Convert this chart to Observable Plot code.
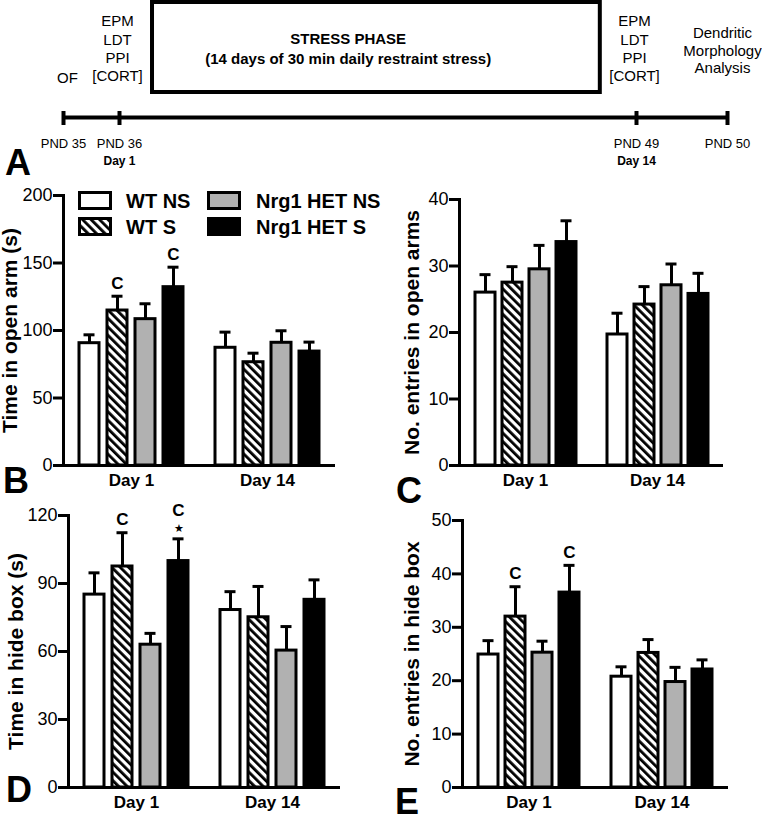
<!DOCTYPE html>
<html>
<head>
<meta charset="utf-8">
<script src="https://cdn.jsdelivr.net/npm/d3@7"></script>
<script src="https://cdn.jsdelivr.net/npm/@observablehq/plot@0.6"></script>
<style>
  body { margin: 0; background: #fff; }
  #fig { position: relative; width: 762px; height: 815px; overflow: hidden; background: #fff;
         font-family: "Liberation Sans", Arial, Helvetica, sans-serif; color: #000; }
  #fig > svg { position: absolute; }
  .letter { position: absolute; font-weight: bold; font-size: 36px; line-height: 36px; }
  .lg-item { position: absolute; display: flex; align-items: center; }
  .lg-text { font-weight: bold; font-size: 20px; line-height: 20px; white-space: nowrap; }
  g[aria-label="y-axis label"] { font-weight: bold; font-size: 21px; }
  g[aria-label="fx-axis tick label"] { font-weight: bold; }
</style>
</head>
<body>
<div id="fig">
  <svg width="0" height="0" style="position:absolute">
    <defs>
      <pattern id="hatch" patternUnits="userSpaceOnUse" width="6" height="6" patternTransform="rotate(-45)">
        <rect width="6" height="6" fill="white"></rect>
        <rect width="2.8" height="6" fill="black"></rect>
      </pattern>
    </defs>
  </svg>
</div>
<script>
// ---------- data ----------
const days = ["Day 1", "Day 14"];
const groups = ["WT NS", "WT S", "Nrg1 HET NS", "Nrg1 HET S"];
const groupFills = ["white", "url(#hatch)", "#b1b1b1", "black"];

// B: time in open arm (s)  [day][group]
const openArmTimeMean = [[90.6, 114.8, 108.4, 132.1], [87.2, 76.5, 90.9, 84.4]];
const openArmTimeSEM  = [[6.2, 10.6, 11.4, 14.8], [11.6, 6.7, 8.9, 7.0]];
const openArmTimeTicks = [0, 50, 100, 150, 200];
// C: no. entries in open arms
const openArmEntriesMean = [[26.0, 27.5, 29.5, 33.6], [19.7, 24.2, 27.1, 25.8]];
const openArmEntriesSEM  = [[2.7, 2.4, 3.6, 3.2], [3.2, 2.7, 3.2, 3.1]];
const openArmEntriesTicks = [0, 10, 20, 30, 40];
// D: time in hide box (s)
const hideTimeMean = [[85.1, 97.5, 63.0, 99.9], [78.3, 75.1, 60.4, 82.8]];
const hideTimeSEM  = [[9.6, 14.9, 5.0, 9.8], [8.1, 13.6, 10.6, 8.8]];
const hideTimeTicks = [0, 30, 60, 90, 120];
// E: no. entries in hide box
const hideEntriesMean = [[24.9, 32.0, 25.25, 36.5], [20.75, 25.2, 19.75, 22.1]];
const hideEntriesSEM  = [[2.6, 5.6, 2.15, 5.1], [1.85, 2.5, 2.75, 1.8]];
const hideEntriesTicks = [0, 10, 20, 30, 40, 50];

// significance annotations (symbols listed top to bottom)
const annB = [{day: "Day 1", group: "WT S", symbols: ["C"]}, {day: "Day 1", group: "Nrg1 HET S", symbols: ["C"]}];
const annC = [];
const annD = [{day: "Day 1", group: "WT S", symbols: ["C"]}, {day: "Day 1", group: "Nrg1 HET S", symbols: ["C", "★"]}];
const annE = [{day: "Day 1", group: "WT S", symbols: ["C"]}, {day: "Day 1", group: "Nrg1 HET S", symbols: ["C"]}];

// timeline (panel A)
const timelinePND = [35, 36, 49, 50];
const pndLabels = ["PND 35", "PND 36", "PND 49", "PND 50"];
const dayMarkers = [{pnd: 36, label: "Day 1"}, {pnd: 49, label: "Day 14"}];
const testDays = [36, 49];
const testLines = ["EPM", "LDT", "PPI", "[CORT]"];
const ofDay = [35];
const ofLabel = "OF";
const analysisDay = [50];
const analysisLines = ["Dendritic", "Morphology", "Analysis"];
const stressPhase = [{from: 36.83, to: 48.09, textAt: 41.75}];
const stressTitle = "STRESS PHASE";
const stressSubtitle = "(14 days of 30 min daily restraint stress)";

// ---------- drawing ----------
const FONT = '"Liberation Sans", Arial, Helvetica, sans-serif';
const fig = document.getElementById("fig");

function place(svg, left, top) {
  svg.style.left = left + "px";
  svg.style.top = top + "px";
  svg.style.position = "absolute";
  fig.appendChild(svg);
}

// Panel A timeline
const header = Plot.plot({
  width: 762, height: 170, margin: 0,
  style: {fontFamily: FONT, color: "black", background: "transparent", overflow: "visible"},
  x: {type: "linear", domain: timelinePND, range: [63, 119, 636, 727], axis: null},
  y: {type: "identity"},
  marks: [
    Plot.rect(stressPhase, {x1: "from", x2: "to", y1: 2, y2: 92, fill: "none", stroke: "black", strokeWidth: 4}),
    Plot.text(stressPhase, {x: "textAt", y: 47, text: () => stressTitle + "\n" + stressSubtitle,
      fontWeight: "bold", fontSize: 15, lineHeight: 1.33, fill: "black"}),
    Plot.text(testDays, {x: d => d, y: 47.5, text: () => testLines.join("\n"), fontSize: 15, lineHeight: 1.22, dx: -2, fill: "black"}),
    Plot.text(ofDay, {x: d => d, y: 78, text: () => ofLabel, fontSize: 15, dx: 4, fill: "black"}),
    Plot.text(analysisDay, {x: d => d, y: 49.5, text: () => analysisLines.join("\n"), fontSize: 15, lineHeight: 1.17, dx: -5, fill: "black"}),
    Plot.ruleY([117], {x1: timelinePND[0], x2: timelinePND[timelinePND.length - 1], strokeWidth: 4}),
    Plot.ruleX(timelinePND, {x: d => d, y1: 111, y2: 125, strokeWidth: 4}),
    Plot.text(timelinePND, {x: d => d, y: 143, text: (d, i) => pndLabels[i], fontSize: 13, fill: "black"}),
    Plot.text(dayMarkers, {x: "pnd", y: 161, text: "label", fontSize: 12, fontWeight: "bold", fill: "black"})
  ]
});
place(header, 0, 0);

function panel(cfg) {
  const rows = [];
  days.forEach((day, di) => groups.forEach((group, gi) =>
    rows.push({day, group, mean: cfg.mean[di][gi], sem: cfg.sem[di][gi]})));
  const ann = cfg.ann.flatMap(a => {
    const r = rows.find(r => r.day === a.day && r.group === a.group);
    return a.symbols.map((s, k) => ({day: a.day, group: a.group, top: r.mean + r.sem, symbol: s, level: a.symbols.length - 1 - k}));
  });
  const svg = Plot.plot({
    width: cfg.width, height: cfg.height,
    marginLeft: cfg.ml, marginRight: cfg.mr, marginTop: cfg.mt, marginBottom: cfg.mb,
    style: {fontFamily: FONT, fontSize: "18px", color: "black", background: "transparent", overflow: "visible"},
    fx: {domain: days, padding: 0, label: null},
    x: {domain: groups, paddingInner: 0.27, paddingOuter: 0.53, axis: null},
    y: {domain: [0, cfg.ticks[cfg.ticks.length - 1]], label: cfg.label},
    color: {domain: groups, range: groupFills},
    marks: [
      Plot.axisY({ticks: cfg.ticks, tickSize: 10, tickPadding: 1, strokeWidth: 3, fontSize: 18,
        label: cfg.label, labelAnchor: "center", labelArrow: "none", labelOffset: cfg.lo}),
      Plot.axisFx({anchor: "bottom", tickSize: 0, tickPadding: 8, fontSize: 17, fontWeight: "bold", label: null}),
      Plot.frame({anchor: "left", facetAnchor: "left", strokeWidth: 3}),
      Plot.ruleX(rows, {fx: "day", x: "group", y1: "mean", y2: d => d.mean + d.sem, strokeWidth: 3}),
      Plot.tickY(rows, {fx: "day", x: "group", y: d => d.mean + d.sem, strokeWidth: 3, insetLeft: 4.5, insetRight: 4.5}),
      Plot.barY(rows, {fx: "day", x: "group", y: "mean", fill: "group", stroke: "black", strokeWidth: 3}),
      Plot.ruleY([0], {strokeWidth: 3}),
      Plot.text(ann.filter(a => a.symbol === "C" && a.level === 0), {fx: "day", x: "group", y: "top", text: "symbol", dy: -13, fontSize: 17, fontWeight: "bold", fill: "black"}),
      Plot.text(ann.filter(a => a.symbol === "★"), {fx: "day", x: "group", y: "top", text: "symbol", dy: -10, fontSize: 11, fill: "black"}),
      Plot.text(ann.filter(a => a.symbol === "C" && a.level === 1), {fx: "day", x: "group", y: "top", text: "symbol", dy: -28, fontSize: 17, fontWeight: "bold", fill: "black"})
    ]
  });
  place(svg, cfg.left, cfg.top);
}

panel({left: 0, top: 170, width: 381, height: 330, ml: 63, mr: 46, mt: 25, mb: 35, lo: 61,
  mean: openArmTimeMean, sem: openArmTimeSEM, ticks: openArmTimeTicks, label: "Time in open arm (s)", ann: annB});
panel({left: 381, top: 170, width: 381, height: 330, ml: 77, mr: 39, mt: 29, mb: 35, lo: 55,
  mean: openArmEntriesMean, sem: openArmEntriesSEM, ticks: openArmEntriesTicks, label: "No. entries in open arms", ann: annC});
panel({left: 0, top: 500, width: 381, height: 315, ml: 68, mr: 41, mt: 15, mb: 28, lo: 60,
  mean: hideTimeMean, sem: hideTimeSEM, ticks: hideTimeTicks, label: "Time in hide box (s)", ann: annD});
panel({left: 381, top: 500, width: 381, height: 315, ml: 80, mr: 34, mt: 20, mb: 28, lo: 58,
  mean: hideEntriesMean, sem: hideEntriesSEM, ticks: hideEntriesTicks, label: "No. entries in hide box", ann: annE});

// legend (inside panel B)
const legendPos = [
  {sx: 78, tx: 126, y: 191}, {sx: 78, tx: 126, y: 217},
  {sx: 207, tx: 256, y: 191}, {sx: 207, tx: 256, y: 217}
];
groups.forEach((g, i) => {
  const p = legendPos[i];
  const sw = document.createElementNS("http://www.w3.org/2000/svg", "svg");
  sw.setAttribute("width", 34); sw.setAttribute("height", 19);
  sw.style.position = "absolute"; sw.style.left = p.sx + "px"; sw.style.top = p.y + "px";
  const r = document.createElementNS("http://www.w3.org/2000/svg", "rect");
  r.setAttribute("x", 1.5); r.setAttribute("y", 1.5); r.setAttribute("width", 31); r.setAttribute("height", 16);
  r.setAttribute("fill", groupFills[i]); r.setAttribute("stroke", "black"); r.setAttribute("stroke-width", 3);
  sw.appendChild(r);
  fig.appendChild(sw);
  const t = document.createElement("div");
  t.className = "lg-text";
  t.textContent = g;
  t.style.position = "absolute"; t.style.left = p.tx + "px"; t.style.top = (p.y) + "px";
  fig.appendChild(t);
});

// panel letters
const letters = [
  {t: "A", x: 5, y: 145}, {t: "B", x: 3, y: 463}, {t: "C", x: 396, y: 473},
  {t: "D", x: 6, y: 772}, {t: "E", x: 395, y: 784}
];
letters.forEach(l => {
  const d = document.createElement("div");
  d.className = "letter"; d.textContent = l.t;
  d.style.left = l.x + "px"; d.style.top = l.y + "px";
  fig.appendChild(d);
});
</script>
</body>
</html>
